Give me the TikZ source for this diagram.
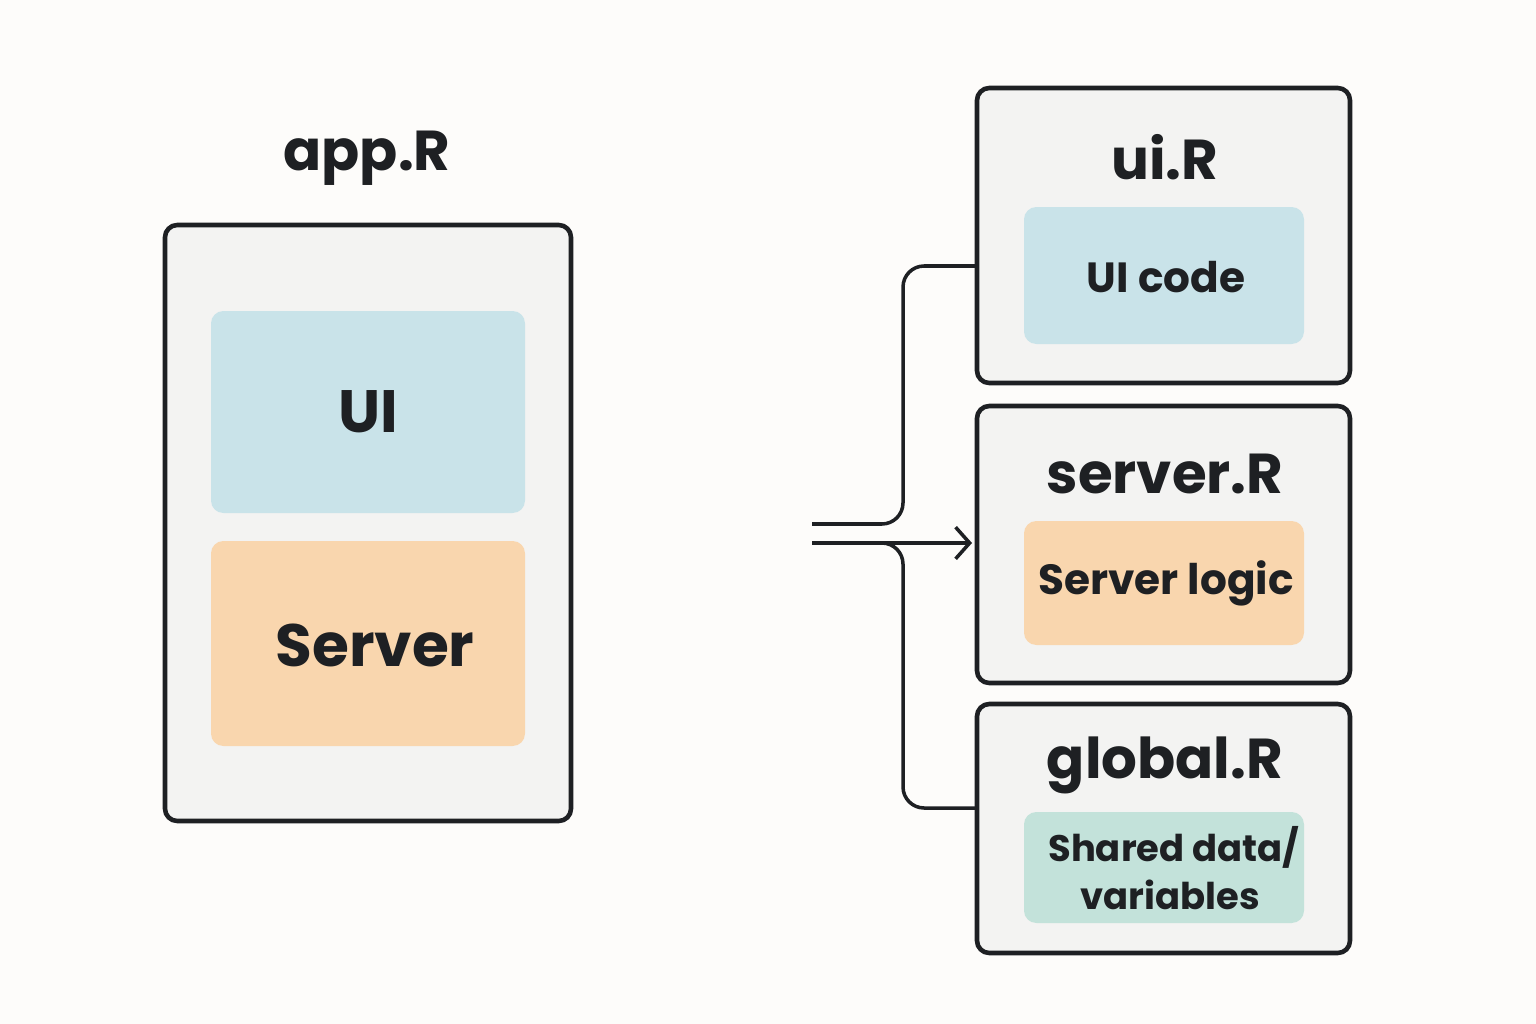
\documentclass[tikz,border=0pt]{standalone}
\usepackage{fontspec}
\setmainfont{Poppins}
\usetikzlibrary{arrows.meta}
\definecolor{paper}{HTML}{FDFCFA}
\definecolor{boxgray}{HTML}{F3F3F2}
\definecolor{uiblue}{HTML}{C9E3E9}
\definecolor{srvorange}{HTML}{F9D6AE}
\definecolor{gltteal}{HTML}{C3E2DA}
\definecolor{ink}{HTML}{1E2023}
\tikzset{
  file/.style={draw=ink, line width=1.3pt, fill=boxgray, rounded corners=3.5pt},
  part/.style={rounded corners=3.5pt},
  title/.style={text=ink, font=\fontsize{16}{18}\selectfont\bfseries},
  label/.style={text=ink, font=\fontsize{12}{14}\selectfont\bfseries, align=center},
  link/.style={draw=ink, line width=1pt, rounded corners=6pt}
}
\begin{document}
\begin{tikzpicture}[x=0.01cm,y=-0.01cm]
            \fill[paper] (0,0) rectangle (1536,1024);
            \useasboundingbox (0,0) rectangle (1536,1024);

            % single file
            \node[title] (appT) at (367,158) {app.R};
            \draw[file] (165,225) rectangle (571,821);
            \fill[part, uiblue] (211,311) rectangle (525,513);
            \node[label, font=\fontsize{17}{20}\selectfont\bfseries] (ui) at (368,412) {UI};
            \fill[part, srvorange] (211,541) rectangle (525,746);
            \node[label, font=\fontsize{17}{20}\selectfont\bfseries] (server) at (375,645) {Server};

            % split files
            \draw[file] (977,88) rectangle (1350,383);
            \node[title] (uiT) at (1165,157) {ui.R};
            \fill[part, uiblue] (1024,207) rectangle (1304,344);
            \node[label] (uiC) at (1166,277) {UI code};
            \coordinate (uiIn) at (977,266);

            \draw[file] (977,406) rectangle (1350,683);
            \node[title] (serverT) at (1165,474) {server.R};
            \fill[part, srvorange] (1024,521) rectangle (1304,645);
            \node[label] (serverC) at (1166,583) {Server logic};
            \coordinate (serverIn) at (972,543);

            \draw[file] (977,704) rectangle (1350,953);
            \node[title] (globalT) at (1165,765) {global.R};
            \fill[part, gltteal] (1024,812) rectangle (1304,923);
            \node[label, font=\fontsize{10.5}{13.5}\selectfont\bfseries] (globalC) at (1170,868) {\ Shared data/\\variables};
            \coordinate (globalIn) at (977,808);

            % connectors
            \coordinate (srcA) at (812,524);
            \coordinate (srcB) at (812,543);
            \draw[link] (srcA) -- (903,524) -- (903,266) -- (uiIn);
            \draw[link, -{Straight Barb[length=4pt,width=9pt,line width=1pt]}] (srcB) -- (serverIn);
            \draw[link] (880,543) -- (903,543) -- (903,808) -- (globalIn);
        \end{tikzpicture}
\end{document}
